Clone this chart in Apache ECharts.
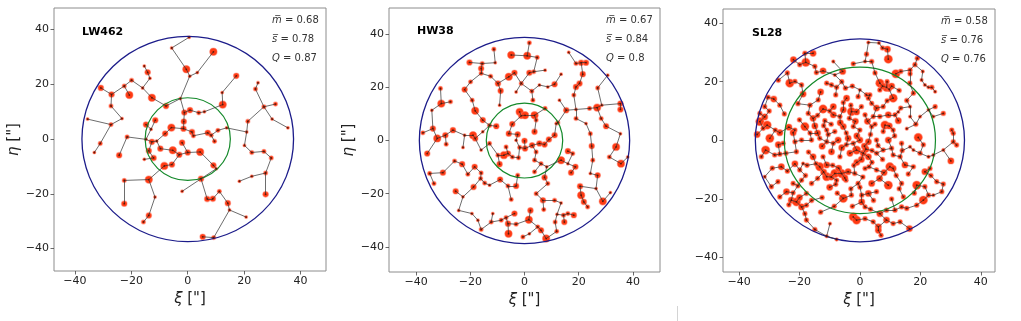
<!DOCTYPE html>
<html>
<head>
<meta charset="utf-8">
<script src="https://cdn.jsdelivr.net/npm/echarts@6/dist/echarts.min.js"></script>
<style>
html, body { margin: 0; padding: 0; background: #fff; }
#chart { width: 1021px; height: 321px; }
</style>
</head>
<body>
<div id="chart"></div>
<script>
const clusterNames = ['LW462', 'HW38', 'SL28'];
const mBar = [0.68, 0.67, 0.58];
const sBar = [0.78, 0.84, 0.76];
const qValues = [0.87, 0.8, 0.76];
const outerRadii = [37.5, 38.8, 34.6];
const innerRadii = [15.1, 14.1, 25.0];
const axisTicks = [-40, -20, 0, 20, 40];

// [xi, eta, mass class 1..4]
const lw462Stars = [
  [0.5,37.2,1],[-5.7,33.3,1],[-0.5,25.5,4],[0.7,23.0,1],[3.4,24.3,1],[9.1,31.9,4],[17.2,23.1,3],[12.2,17.0,1],
  [12.4,12.6,4],[5.9,10.0,1],[3.9,9.6,2],[0.8,10.6,3],[-1.2,9.7,3],[-2.6,14.8,1],[-7.7,12.1,3],[-12.7,15.1,4],
  [-16.0,18.7,1],[-13.4,22.2,1],[-14.2,24.4,3],[-15.4,26.7,1],[-19.9,21.5,2],[-22.5,19.4,2],[-20.7,16.1,4],
  [-27.0,16.3,3],[-30.8,18.7,3],[-27.2,12.1,2],[-23.3,7.5,1],[-35.5,7.3,1],[-27.2,5.3,2],[-31.0,-1.6,2],
  [-33.1,-4.9,1],[-21.5,0.8,2],[-24.3,-5.9,3],[-11.5,6.9,3],[-14.8,5.3,3],[-13.0,3.6,1],[-14.8,-0.1,1],
  [-12.7,-1.0,3],[-11.0,-0.7,1],[-13.8,-4.3,3],[-12.1,-6.9,3],[-15.4,-7.4,1],[-8.0,2.0,3],[-5.8,4.2,4],
  [-1.5,3.8,3],[-1.4,6.4,3],[-2.0,-1.3,3],[-9.7,-3.5,3],[-5.3,-4.1,4],[-3.0,-5.7,3],[0.0,-4.9,3],[4.4,-4.7,4],
  [-8.3,-9.8,4],[-5.6,-9.3,3],[1.5,2.6,3],[2.0,1.2,2],[7.1,2.3,3],[8.3,1.4,2],[9.5,-0.8,2],[10.7,3.2,2],
  [13.8,4.1,1],[9.1,-9.6,3],[10.1,-10.8,1],[4.7,-14.5,3],[-2.0,-19.1,1],[11.2,-19.1,2],[8.9,-21.8,3],
  [6.9,-21.9,3],[14.2,-23.4,3],[14.8,-25.9,1],[20.7,-28.5,1],[9.2,-36.0,2],[5.3,-35.7,3],[18.3,-15.4,1],
  [22.7,-13.6,1],[27.6,-12.4,2],[27.6,-20.2,3],[29.6,-6.9,2],[27.0,-4.5,2],[22.7,-4.9,2],[20.1,-2.3,1],
  [20.9,2.6,1],[21.3,6.5,2],[24.0,18.3,2],[24.9,20.6,1],[27.0,11.8,2],[31.1,12.8,2],[29.9,7.3,1],[35.5,4.1,1],
  [-22.5,-15.1,2],[-13.8,-14.8,4],[-22.5,-23.6,3],[-11.6,-21.2,1],[-13.8,-27.9,3],[-15.7,-30.3,2]
];

const hw38Stars = [
  [1.8,36.8,2],[1.0,31.9,4],[-4.9,32.2,4],[4.7,31.3,2],[7.6,26.5,1],[1.8,25.5,3],[3.4,25.9,2],[-1.2,21.5,2],
  [-3.1,18.3,1],[2.7,18.6,2],[3.1,15.2,2],[5.5,20.9,1],[8.6,20.2,1],[11.1,21.2,3],[13.5,25.0,1],
  [-11.3,34.4,2],[-10.8,29.3,1],[-15.6,29.0,2],[-20.3,29.4,3],[-16.0,27.1,3],[-16.0,25.3,2],[-12.5,24.2,2],
  [-9.8,21.5,3],[-19.9,22.1,2],[-22.1,19.2,3],[-5.8,24.0,4],[-3.7,25.5,3],[-8.8,18.7,3],[-9.2,13.3,1],
  [-19.3,15.2,2],[-18.2,11.2,4],[-15.4,7.7,3],[-12.9,5.7,2],
  [-31.0,19.6,2],[-30.7,13.9,4],[-27.3,14.6,2],[-34.2,11.4,1],[-33.8,4.5,3],[-32.2,0.8,4],[-29.2,2.0,3],
  [-28.9,-1.4,2],[-37.5,2.9,2],[-26.4,3.9,3],[-22.1,2.0,1],[-19.0,2.0,4],[-18.2,0.8,3],[-15.4,3.3,1],
  [-35.9,-4.9,3],[-35.0,-12.4,2],[-33.4,-16.2,2],[-30.1,-12.1,3],[-25.8,-7.7,2],[-23.0,-8.9,3],[-25.4,-19.1,3],
  [-24.3,-26.3,1],[-22.7,-2.6,1],[-18.4,-9.9,3],[-16.0,-12.2,2],[-14.7,-16.0,2],[-18.8,-17.5,3],[-12.9,-16.8,1],
  [-16.2,-14.3,2],[-20.9,-12.7,2],[-22.7,-21.2,1],
  [16.3,33.2,1],[19.0,29.0,2],[20.9,29.3,3],[22.7,29.3,3],[21.5,25.0,3],[20.3,21.5,3],[19.0,20.2,3],[18.2,17.1,2],
  [27.0,19.8,2],[30.7,24.6,1],[28.5,13.3,1],[35.4,13.9,3],[35.4,11.7,3],[26.8,12.4,4],[24.0,12.1,2],[28.3,8.3,2],
  [30.1,5.4,3],[19.0,11.7,1],[19.0,8.3,2],[15.4,11.4,3],[12.9,15.2,1],[12.3,6.7,2],[22.7,6.4,1],[24.3,2.6,2],
  [24.8,-2.1,3],[33.8,-2.4,4],[35.4,2.6,1],[31.3,-6.2,2],[35.6,-8.7,4],[38.1,-6.2,1],[27.0,-13.1,3],[26.4,-18.1,1],
  [28.9,-22.9,4],[31.7,-19.6,1],[21.9,-23.1,3],[20.9,-20.6,4],[20.5,-17.2,3],[16.0,-8.7,1],[18.8,-9.9,3],
  [17.8,-4.9,2],[16.0,-4.0,3],[13.5,-7.4,4],[17.2,-12.1,3],[24.3,-12.4,1],[25.2,-7.4,2],
  [-1.8,10.8,4],[-1.2,9.3,3],[0.2,9.5,4],[3.7,9.5,4],[4.3,7.7,2],[7.6,12.1,2],[11.7,6.4,1],[11.1,2.0,3],
  [9.0,0.4,3],[7.4,-1.5,3],[5.5,-1.1,3],[3.7,3.3,3],[-2.5,2.3,3],[-4.5,6.2,3],[-5.8,2.6,3],[-10.4,5.4,3],
  [0.0,-0.1,3],[0.2,-3.0,3],[-1.8,-2.6,2],[2.8,-1.8,3],[4.3,-4.3,2],[-6.1,-4.9,3],[-7.6,-5.5,4],[-9.2,-8.9,3],
  [-9.8,-5.5,2],[-4.5,-6.2,2],[-2.2,-6.5,2],[3.7,-7.4,2],[6.1,-8.7,2],[8.2,-9.9,1],[3.7,-11.8,2],[-2.5,-13.1,2],
  [-3.1,-17.1,3],[-6.1,-17.1,2],[-9.0,-14.7,3],[-4.9,-22.2,2],[4.3,-20.0,2],[8.6,-16.2,2],[7.4,-13.9,3],
  [-6.8,-2.4,2],[-3.1,0.1,1],[-16.0,-3.6,1],[-12.9,-1.1,2],
  [6.8,-22.5,3],[7.1,-26.0,2],[11.1,-22.5,2],[13.5,-23.5,1],[16.0,-27.5,2],[18.2,-28.1,3],[14.7,-30.7,3],
  [14.4,-28.1,2],[12.0,-27.8,1],[11.3,-30.7,2],[11.9,-34.2,2],[6.1,-33.8,3],[8.0,-36.9,4],[4.9,-32.5,2],
  [1.6,-29.8,4],[2.2,-26.3,3],[-3.7,-27.5,3],[-3.1,-31.5,2],[-5.9,-35.1,4],[-6.1,-31.3,3],[-6.8,-29.0,2],
  [-8.6,-30.0,2],[-12.3,-30.7,2],[-16.0,-33.5,2],[-17.2,-30.0,1],[-19.4,-27.5,1],[-11.7,-27.5,1],[1.8,-35.1,1],
  [-0.6,-36.3,2],[23.3,-25.0,2]
];

const sl28Stars = [
  [2.8,33.4,1],[6.3,33.2,1],[7.5,31.5,2],[9.1,31.1,3],[-18.2,29.7,2],[-15.5,29.7,3],
  [9.4,27.7,4],[2.2,29.4,2],[-17.9,26.6,4],[-19.9,25.8,2],[-14.9,25.2,2],[-8.8,26.9,1],[-2.2,26.1,2],[1.7,26.9,1],
  [3.9,26.9,2],[19.0,28.0,2],[18.2,25.8,2],[16.6,24.0,2],[20.8,23.5,1],
  [-12.2,23.7,3],[-5.7,23.5,3],[-8.3,22.3,1],[-14.4,23.1,2],[-23.2,19.5,4],[-21.5,20.1,2],[6.6,19.5,4],
  [8.8,18.1,4],[11.9,22.7,4],[13.5,23.5,2],[16.6,22.7,2],[20.4,20.6,1],[22.7,18.1,1],
  [-19.3,18.9,2],[-18.8,15.8,3],[-11.0,19.5,2],[-9.4,18.9,2],[-7.7,18.1,2],[-4.8,17.8,2],[0.0,17.2,1],
  [2.2,15.5,2],[3.3,15.5,2],[6.6,17.2,2],[9.7,17.4,2],[11.0,14.4,4],[15.5,13.6,2],[17.7,16.1,2],[21.5,18.9,1],
  [23.8,18.1,2],[24.9,16.6,1],
  [-28.5,14.1,3],[-30.4,14.7,2],[-13.8,13.8,2],[-12.2,10.7,4],[-8.8,11.5,3],[-5.5,12.9,2],[-4.4,14.4,3],
  [-0.6,14.9,2],[2.8,14.4,2],[3.9,12.6,2],[-5.5,10.4,3],[-2.8,9.8,4],[7.7,11.5,2],[12.7,9.7,1],[16.6,11.5,1],
  [22.7,10.4,1],[24.9,11.5,2],[27.6,9.2,2],
  [-33.1,9.2,2],[-31.5,11.5,2],[-17.1,9.2,2],[-15.5,7.5,3],[-11.6,6.7,2],[-8.8,8.7,3],[-6.6,8.1,2],[-1.1,9.7,3],
  [1.7,8.7,2],[4.4,8.1,2],[6.6,8.1,2],[9.4,8.7,3],[11.6,8.7,2],[12.7,6.7,3],[16.6,8.1,1],[19.9,8.1,1],[24.3,8.1,1],
  [-33.1,6.4,4],[-30.7,5.2,4],[-32.0,4.1,2],[-21.5,3.5,2],[-18.2,4.7,4],[-14.9,4.9,3],[-11.0,3.5,2],[-8.3,3.0,2],
  [-5.5,4.7,3],[-2.2,4.7,2],[0.0,3.5,2],[3.9,4.7,2],[8.3,5.2,4],[9.7,4.9,3],[7.7,3.0,2],[11.0,3.5,2],
  [30.4,3.5,2],[30.9,2.4,2],[-26.5,2.6,3],
  [-29.8,0.7,4],[-22.1,2.6,3],[-21.5,-0.5,2],[-19.3,0.1,2],[-16.0,0.1,2],[-13.3,0.7,2],[-11.0,-0.5,2],
  [-8.8,-1.0,2],[-7.2,0.1,3],[-3.9,0.7,3],[-2.2,-1.0,2],[0.0,0.1,3],[2.8,-0.5,3],[5.5,0.1,2],[9.4,0.1,3],
  [10.5,-2.7,2],[13.8,-1.0,2],[19.3,1.0,4],[30.9,-0.5,2],[32.0,-1.6,2],[16.6,-2.2,1],[-25.4,-1.0,2],
  [-31.2,-3.3,4],[-26.5,-4.7,2],[-24.5,-4.4,2],[-28.2,-5.0,2],[-32.6,-5.6,2],[-21.0,-3.9,2],[-15.5,-5.6,3],
  [-12.2,-5.6,2],[-9.4,-3.9,3],[-6.6,-5.6,2],[-3.3,-4.4,3],[-1.1,-3.3,4],[1.1,-4.4,3],[2.8,-5.6,3],[5.5,-4.4,2],
  [7.7,-3.3,2],[11.0,-5.0,2],[13.3,-5.6,2],[19.9,-4.4,2],[22.7,-5.6,1],[24.3,-5.0,1],[27.6,-3.3,1],[30.1,-7.0,3],
  [17.7,-3.3,1],
  [-26.0,-9.0,3],[-18.8,-7.9,1],[-13.3,-9.0,4],[-11.0,-8.4,3],[-8.3,-11.3,4],[-6.1,-11.3,4],[-3.9,-10.7,3],
  [-1.7,-11.3,2],[1.7,-9.6,2],[5.5,-10.1,2],[9.9,-9.0,4],[11.0,-9.6,3],[14.9,-8.4,3],[17.7,-9.0,2],[21.5,-10.7,3],
  [23.2,-9.6,2],[-19.9,-10.1,2],
  [-27.1,-14.1,2],[-22.1,-14.7,2],[-19.3,-13.6,2],[-16.0,-14.7,2],[-11.0,-12.4,4],[-7.7,-13.6,2],[-4.6,-13.6,2],
  [-0.6,-14.7,2],[3.9,-14.7,3],[9.4,-15.3,4],[13.8,-14.7,2],[18.8,-15.3,4],[21.5,-15.8,2],[25.4,-14.1,2],
  [27.6,-14.9,2],[-31.5,-12.4,1],
  [-24.3,-17.5,3],[-22.1,-17.9,2],[-17.7,-18.1,2],[-5.5,-19.8,4],[-2.8,-18.7,2],[0.6,-18.7,2],[2.8,-18.1,3],
  [5.5,-17.5,2],[14.4,-19.3,2],[21.0,-20.4,4],[22.7,-18.7,2],[24.3,-18.7,1],[27.1,-17.5,2],[-29.3,-15.8,2],
  [-22.7,-20.4,3],[-21.0,-21.0,4],[-19.3,-22.7,3],[-17.7,-22.1,2],[0.6,-21.0,3],[1.7,-22.7,2],[6.6,-25.0,3],
  [8.8,-23.8,2],[11.6,-23.8,2],[13.8,-22.7,2],[15.5,-23.2,2],[18.8,-22.1,2],[-26.5,-19.3,2],
  [-18.2,-25.0,2],[-17.7,-27.2,2],[-14.9,-30.4,2],[-2.2,-26.1,4],[-1.1,-27.2,4],[1.7,-26.7,2],[4.4,-27.8,2],
  [6.1,-29.5,3],[8.8,-27.2,3],[11.0,-28.4,2],[13.3,-27.8,2],[16.4,-30.1,3],
  [-11.0,-32.7,1],[-9.9,-28.4,1],[-7.7,-33.8,1],[6.1,-30.7,3],[7.0,-32.4,2],
  [-10.5,2.0,2],[-6.0,-2.5,3],[-4.5,2.5,2],[-1.5,6.5,3],[1.5,-2.0,3],[3.5,2.0,2],[6.0,-1.8,2],[-12.5,-2.0,3],
  [-14.5,-8.0,2],[-9.0,-8.5,2],[-1.0,-7.5,3],[4.0,-7.5,2],[7.5,-6.5,2],[0.5,11.5,2],[-3.0,12.0,2],[5.5,11.0,3],
  [-8.0,15.5,2],[-16.5,12.0,2],[-20.0,7.0,2],[-23.5,4.5,3],[-17.0,-4.0,2],[-21.5,-8.0,3],[-18.0,-12.0,2],
  [-10.0,-16.0,3],[-7.5,-18.0,2],[-12.5,-19.5,2],[-3.0,-16.5,2],[1.0,-12.5,2],[6.5,-13.0,3],[12.0,-12.0,2],
  [16.0,-11.5,2],[14.0,-3.5,2],[11.5,1.5,2],[15.5,4.0,1],[9.0,13.5,2],[13.5,11.0,2],[-25.0,9.0,2],[-27.0,-1.5,3],
  [-2.5,-22.5,2],[3.5,-23.5,2],[-24.0,23.0,2],[-27.0,20.5,2],[-22.0,27.5,3],
  [-7.0,-9.5,3],[-9.5,-12.5,3],[-5.0,-12.8,3],[-12.0,-10.8,3],[-8.0,-15.0,2],[-14.0,2.5,3],[-12.0,5.0,2],
  [-16.5,2.5,2],[2.0,-3.0,3],[4.0,-3.5,2],[0.5,-6.5,3],[-2.0,-8.5,2],[7.5,18.5,3],[9.0,20.0,2],[10.5,18.5,3],
  [-34.0,2.0,3],[-31.5,8.0,3],[-28.0,3.5,2],[-20.0,-19.5,3],[-23.5,-22.0,2],[-16.0,-20.5,2],[-6.5,6.0,3],
  [-9.5,5.5,2],[-3.5,7.5,2],[2.5,6.5,3],[5.0,5.5,2],[-1.0,1.5,3],[-4.5,-1.5,2],[3.0,-9.0,2],[8.0,-11.0,3],
  [-17.5,-8.5,2],[-14.0,-13.0,2],[-24.0,-10.5,2],[-29.0,-9.5,2],[-30.0,10.0,2],[-26.5,12.0,2],[-20.5,12.5,2],
  [-13.0,16.5,3],[-6.0,20.0,2],[-2.5,18.5,2],[5.0,23.0,2],[13.0,17.0,2],[16.5,19.5,2],[18.5,5.5,2],[21.0,-1.5,2],
  [23.5,-12.0,2],[18.0,-18.0,2],[10.5,-20.0,2],[4.5,-20.5,2],[-8.5,-22.5,2],[-13.0,-24.5,2],[-20.5,-15.5,2],
  [-10.0,10.0,2],[-14.0,8.5,2],[0.0,-16.0,2],[13.0,-16.5,2]
];

const starSets = [lw462Stars, hw38Stars, sl28Stars];

const panels = [
  { left: 54, top: 8, width: 272, height: 263, x: [-47.4, 49.0], y: [-48.2, 47.9], title: [82, 32], stats: [272, 20, 19], scale: 1 },
  { left: 389, top: 8, width: 271, height: 264, x: [-50.0, 50.0], y: [-49.5, 49.9], title: [417, 31], stats: [606, 20, 19], scale: 1 },
  { left: 723, top: 9, width: 272, height: 263, x: [-45.3, 44.7], y: [-44.9, 44.8], title: [752, 33], stats: [941, 21, 19.3], scale: 1.12 }
];

const massSize = { 1: 3, 2: 4.2, 3: 5.6, 4: 7.4 };
const fontFamily = 'DejaVu Sans';

function spanningTree(stars) {
  const n = stars.length;
  const inTree = new Array(n).fill(false);
  const best = new Array(n).fill(Infinity);
  const parent = new Array(n).fill(-1);
  const edges = [];
  best[0] = 0;
  for (let k = 0; k < n; k++) {
    let u = -1;
    for (let i = 0; i < n; i++) {
      if (!inTree[i] && (u < 0 || best[i] < best[u])) u = i;
    }
    inTree[u] = true;
    if (parent[u] >= 0) {
      edges.push({ coords: [[stars[parent[u]][0], stars[parent[u]][1]], [stars[u][0], stars[u][1]]] });
    }
    for (let i = 0; i < n; i++) {
      if (inTree[i]) continue;
      const d = Math.hypot(stars[i][0] - stars[u][0], stars[i][1] - stars[u][1]);
      if (d < best[i]) { best[i] = d; parent[i] = u; }
    }
  }
  return edges;
}

function minus(v) {
  return v < 0 ? '\u2212' + (-v) : String(v);
}

function ringSeries(i, radius, color, width) {
  return {
    type: 'custom',
    xAxisIndex: i,
    yAxisIndex: i,
    silent: true,
    z: 2,
    data: [[0, 0, radius]],
    renderItem(params, api) {
      const c = api.coord([api.value(0), api.value(1)]);
      const s = api.size([api.value(2), api.value(2)]);
      return {
        type: 'circle',
        x: c[0],
        y: c[1],
        scaleY: s[1] / s[0],
        shape: { cx: 0, cy: 0, r: s[0] },
        style: { fill: 'none', stroke: color, lineWidth: width, strokeNoScale: true }
      };
    }
  };
}

const grids = [], xAxes = [], yAxes = [], series = [], graphics = [];

panels.forEach((p, i) => {
  grids.push({
    left: p.left, top: p.top, width: p.width, height: p.height,
    show: true, borderColor: '#8c8c8c', borderWidth: 1, backgroundColor: '#fff'
  });
  const common = {
    gridIndex: i,
    type: 'value',
    splitLine: { show: false },
    axisLine: { show: false, onZero: false },
    axisTick: { show: true, customValues: axisTicks, length: 3.5, lineStyle: { color: '#444', width: 0.8 } },
    axisLabel: { customValues: axisTicks, formatter: minus, fontSize: 11, color: '#222', fontFamily, margin: 5 },
    nameLocation: 'middle',
    nameTextStyle: { fontSize: 15, color: '#222', fontFamily, rich: { i: { fontStyle: 'italic', fontSize: 15, fontFamily, color: '#222' } } }
  };
  xAxes.push(Object.assign({}, common, { position: 'bottom', min: p.x[0], max: p.x[1], name: '{i|\u03be} ["]', nameGap: 14 }));
  yAxes.push(Object.assign({}, common, { position: 'left', min: p.y[0], max: p.y[1], name: i < 2 ? '{i|\u03b7} ["]' : '', nameGap: 28 }));

  const stars = starSets[i];
  series.push({
    type: 'scatter',
    xAxisIndex: i, yAxisIndex: i,
    data: stars,
    symbolSize: v => massSize[v[2]] * p.scale,
    itemStyle: { color: '#ff3a12', borderColor: 'rgba(255,120,100,0.45)', borderWidth: 1.2, opacity: 1 },
    silent: true,
    z: 1
  });
  series.push({
    type: 'lines',
    coordinateSystem: 'cartesian2d',
    xAxisIndex: i, yAxisIndex: i,
    data: spanningTree(stars),
    lineStyle: { color: '#333', width: 0.8, opacity: 0.9 },
    silent: true,
    z: 3
  });
  series.push({
    type: 'scatter',
    xAxisIndex: i, yAxisIndex: i,
    data: stars,
    symbolSize: 1.8,
    itemStyle: { color: '#4a0e00' },
    silent: true,
    z: 4
  });
  series.push(ringSeries(i, outerRadii[i], '#1c1c8a', 1.3));
  series.push(ringSeries(i, innerRadii[i], '#14892a', 1.2));

  graphics.push({
    type: 'text', x: p.title[0], y: p.title[1], z: 10,
    style: { text: clusterNames[i], font: 'bold 11px "DejaVu Sans"', fill: '#000', verticalAlign: 'middle' }
  });
  const rich = { i: { fontStyle: 'italic', fontSize: 10, fontFamily, fill: '#333' } };
  const lines = [
    '{i|m\u0305} = ' + mBar[i],
    '{i|s\u0305} = ' + sBar[i],
    '{i|Q} = ' + qValues[i]
  ];
  lines.forEach((t, k) => {
    graphics.push({
      type: 'text', x: p.stats[0], y: p.stats[1] + k * p.stats[2], z: 10,
      style: { text: t, font: '10px "DejaVu Sans"', fill: '#333', verticalAlign: 'middle', rich }
    });
  });
});

graphics.push({
  type: 'line', z: 10,
  shape: { x1: 677.5, y1: 306, x2: 677.5, y2: 321 },
  style: { stroke: '#d4d4d4', lineWidth: 1 }
});

const chart = echarts.init(document.getElementById('chart'), null, { renderer: 'canvas' });
chart.setOption({
  animation: false,
  backgroundColor: '#fff',
  grid: grids,
  xAxis: xAxes,
  yAxis: yAxes,
  series,
  graphic: graphics
});
</script>
</body>
</html>
